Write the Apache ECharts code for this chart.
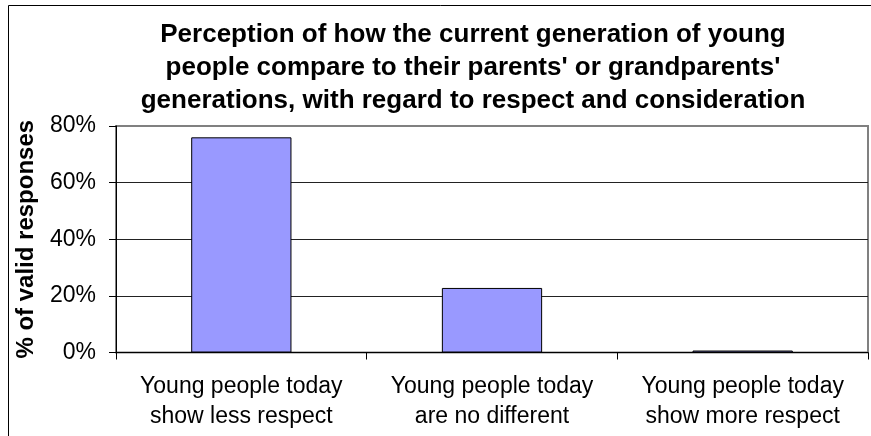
<!DOCTYPE html>
<html>
<head>
<meta charset="utf-8">
<script src="https://cdn.jsdelivr.net/npm/echarts@6/dist/echarts.min.js"></script>
<style>
html,body{margin:0;padding:0;background:#fff;}
#chart{width:871px;height:436px;}
</style>
</head>
<body>
<div id="chart"></div>
<script>
var categories = ['Young people today\nshow less respect', 'Young people today\nare no different', 'Young people today\nshow more respect'];
var values = [76.0, 22.8, 0.7];
var yTicks = { min: 0, max: 80, interval: 20 };
var titleText = "Perception of how the current generation of young\npeople compare to their parents' or grandparents'\ngenerations, with regard to respect and consideration";
var yName = '% of valid responses';

var FONT = '"Liberation Sans", Arial, sans-serif';
var chart = echarts.init(document.getElementById('chart'), null, { renderer: 'canvas' });
chart.setOption({
  animation: false,
  backgroundColor: '#fff',
  textStyle: { fontFamily: FONT },
  graphic: [{
    type: 'rect', silent: true, z: -1,
    shape: { x: 8.5, y: 5.5, width: 900, height: 500 },
    style: { fill: 'none', stroke: '#000', lineWidth: 1 }
  }],
  title: {
    text: titleText,
    left: 468, top: 13, textAlign: 'center',
    textStyle: { fontFamily: FONT, fontSize: 26, fontWeight: 'bold', color: '#000', lineHeight: 33 }
  },
  grid: {
    left: 116, right: 3, top: 126, bottom: 83.5,
    show: true, borderColor: '#808080', borderWidth: 2, backgroundColor: 'transparent'
  },
  xAxis: {
    type: 'category', data: categories,
    axisLine: { lineStyle: { color: '#000', width: 1 } },
    axisTick: { show: true, length: 7, lineStyle: { color: '#000' } },
    axisLabel: { interval: 0, margin: 19, fontFamily: FONT, fontSize: 23, lineHeight: 30, color: '#000' }
  },
  yAxis: {
    type: 'value', min: yTicks.min, max: yTicks.max, interval: yTicks.interval,
    name: yName, nameLocation: 'middle', nameGap: 78,
    nameTextStyle: { fontFamily: FONT, fontSize: 24, fontWeight: 'bold', color: '#000' },
    axisLine: { show: true, lineStyle: { color: '#000', width: 1 } },
    axisTick: { show: true, length: 7, lineStyle: { color: '#000' } },
    axisLabel: { formatter: '{value}%', margin: 20, fontFamily: FONT, fontSize: 23, color: '#000' },
    splitLine: { show: true, lineStyle: { color: ['#000', '#222', '#222', '#222', '#808080'], width: 1 } }
  },
  series: [{
    type: 'bar', data: values, barWidth: '40%',
    itemStyle: { color: '#9999FF', borderColor: '#000', borderWidth: 1 }
  }]
});
</script>
</body>
</html>
